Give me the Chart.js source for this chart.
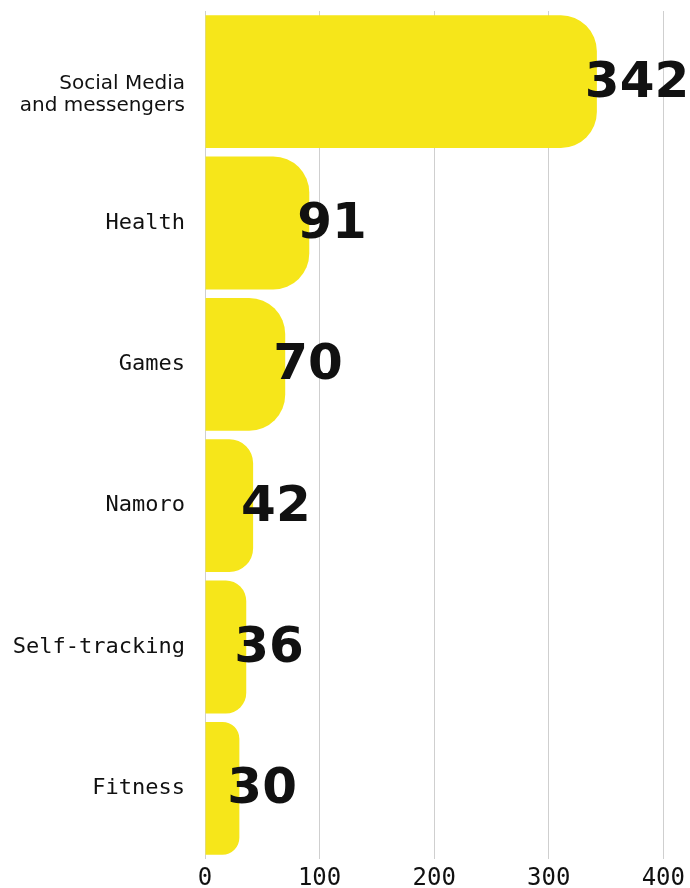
<!DOCTYPE html>
<html>
<head>
<meta charset="utf-8">
<title>Apps por categoria</title>
<script src="https://cdn.jsdelivr.net/npm/chart.js@4.4.1/dist/chart.umd.min.js"></script>
<style>
  html, body { margin: 0; padding: 0; background: #fff; }
  #wrap { width: 690px; height: 888px; }
</style>
</head>
<body>
<div id="wrap"><canvas id="chart" width="690" height="888"></canvas></div>
<script>
// Datos del gráfico
const categories = ["Social Media", "Health", "Games", "Namoro", "Self-tracking", "Fitness"];
const subLabels  = ["and messengers", "", "", "", "", ""];
const values     = [342, 91, 70, 42, 36, 30];
const xTicks     = [0, 100, 200, 300, 400];

// Colores
const YELLOW = "#f6e61a";
const GRID   = "#cfcfcf";
const INK    = "#111";

// Plugin para las etiquetas de categoría (dos tamaños en la primera)
const catLabels = {
  id: "catLabels",
  afterDraw(chart) {
    const { ctx } = chart;
    const y = chart.scales.y;
    const right = chart.chartArea.left - 20;
    ctx.save();
    ctx.fillStyle = INK;
    ctx.textAlign = "right";
    categories.forEach((c, i) => {
      const cy = y.getPixelForValue(i);
      if (subLabels[i]) {
        ctx.font = "20px 'DejaVu Sans'";
        ctx.textBaseline = "alphabetic";
        ctx.fillText(c, right, cy + 7);
        ctx.fillText(subLabels[i], right, cy + 29);
      } else {
        ctx.font = "22px 'DejaVu Sans Mono'";
        ctx.textBaseline = "middle";
        ctx.fillText(c, right, cy);
      }
    });
    ctx.restore();
  }
};

// Plugin para los números grandes al final de cada barra
const valueLabels = {
  id: "valueLabels",
  afterDatasetsDraw(chart) {
    const { ctx } = chart;
    const meta = chart.getDatasetMeta(0);
    ctx.save();
    ctx.fillStyle = INK;
    ctx.font = "bold 50px 'DejaVu Sans'";
    ctx.textAlign = "left";
    ctx.textBaseline = "middle";
    meta.data.forEach((bar, i) => {
      ctx.fillText(String(values[i]), bar.x - 12, bar.y + 2);
    });
    ctx.restore();
  }
};

new Chart(document.getElementById("chart"), {
  type: "bar",
  data: {
    labels: categories,
    datasets: [{
      data: values,
      backgroundColor: YELLOW,
      borderWidth: 0,
      borderSkipped: "start",
      borderRadius: { topRight: 36, bottomRight: 36 },
      barPercentage: 0.94,
      categoryPercentage: 1,
    }],
  },
  options: {
    indexAxis: "y",
    responsive: false,
    animation: false,
    layout: { padding: { left: 205, right: 22, top: 11, bottom: 0 } },
    plugins: {
      legend: { display: false },
      tooltip: { enabled: false },
    },
    scales: {
      x: {
        min: 0,
        max: 400,
        afterBuildTicks: (axis) => { axis.ticks = xTicks.map((v) => ({ value: v })); },
        // Alto fijo del eje para que el área del gráfico llegue a ~859px
        afterFit: (axis) => { axis.height = 29; },
        grid: { color: GRID, lineWidth: 1, drawTicks: false },
        border: { display: false },
        ticks: {
          color: INK,
          padding: 5,
          font: { family: "'DejaVu Sans Mono'", size: 24 },
          maxRotation: 0,
        },
      },
      y: {
        display: false,
      },
    },
  },
  plugins: [catLabels, valueLabels],
});
</script>
</body>
</html>
